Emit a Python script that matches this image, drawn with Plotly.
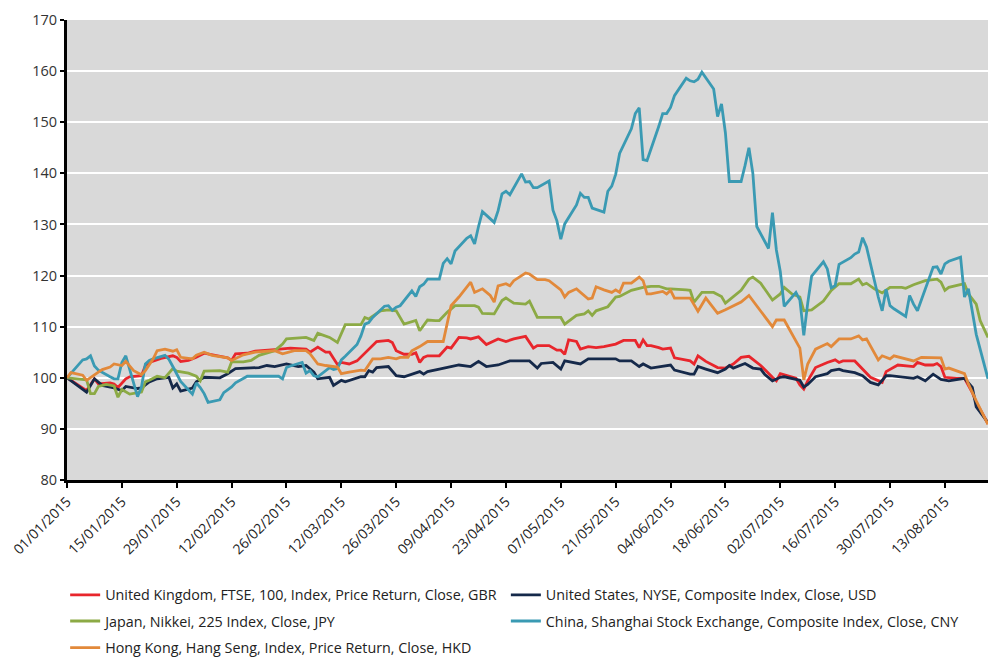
import pandas as pd
import plotly.graph_objects as go

START = pd.Timestamp("2015-01-01")
END = pd.Timestamp("2015-08-24")

# day offsets from 1 Jan 2015 and index values (rebased to 100)
uk_days = [0, 5, 7, 8, 11, 12, 13, 15, 16, 19, 20, 21, 24, 27, 28, 29, 31, 33, 35, 38, 41, 42, 43, 46, 48, 53, 57,
           61, 62, 64, 66, 67, 69, 70, 72, 74, 75, 77, 79, 82, 83, 84, 86, 88, 89, 90, 91, 92, 95, 97, 98, 100, 102,
           103, 105, 107, 110, 112, 114, 117, 119, 120, 123, 125, 126, 127, 128, 130, 131, 133, 135, 137, 140, 142,
           145, 146, 147, 148, 149, 151, 152, 154, 155, 159, 160, 161, 163, 166, 168, 170, 172, 174, 177, 180, 181,
           182, 184, 186, 187, 188, 189, 191, 194, 196, 197, 198, 201, 202, 203, 205, 208, 209, 212, 216, 217, 219,
           221, 222, 223, 224, 227, 229, 231, 232, 235]
uk_vals = [100, 97.5, 99.8, 98.8, 99.0, 98.8, 98.1, 99.8, 100.2, 100.4, 102.4, 103.0, 103.8, 104.3, 104.0, 103.2,
           103.4, 104.0, 104.8, 104.3, 103.9, 103.4, 104.7, 104.8, 105.2, 105.5, 105.8, 105.6, 105.0, 106.0, 105.0,
           105.0, 102.6, 103.0, 102.7, 103.3, 104.1, 105.6, 107.1, 107.3, 106.9, 105.3, 104.6, 104.6, 104.9, 103.0,
           104.0, 104.3, 104.3, 106.0, 105.8, 107.9, 107.8, 107.6, 108.0, 106.5, 107.6, 107.1, 107.6, 108.1, 105.8,
           106.3, 106.3, 105.4, 105.4, 104.6, 107.4, 107.1, 105.6, 106.1, 105.9, 106.1, 106.6, 107.3, 107.3, 105.9,
           107.4, 106.3, 106.3, 105.9, 105.6, 105.8, 103.9, 103.3, 102.7, 104.3, 103.2, 102.0, 101.9, 102.7, 104.0,
           104.2, 102.4, 100.1, 99.4, 100.8, 100.4, 99.9, 98.6, 97.8, 99.4, 102.0, 103.0, 103.5, 103.0, 103.3, 103.3,
           102.5, 101.7, 100.1, 99.1, 101.2, 102.5, 102.2, 103.0, 102.5, 102.5, 102.8, 102.2, 100.1, 99.9, 99.9, 97.1,
           95.2, 91.0]

us_days = [0, 5, 7, 9, 12, 14, 15, 18, 19, 21, 23, 26, 27, 28, 29, 32, 33, 35, 39, 41, 43, 49, 51, 53, 56, 59, 61,
           63, 64, 67, 68, 70, 71, 75, 76, 77, 78, 79, 82, 84, 86, 88, 90, 91, 92, 95, 97, 100, 103, 105, 107, 110,
           113, 117, 118, 120, 121, 124, 126, 127, 131, 133, 137, 140, 141, 144, 146, 147, 149, 152, 154, 155, 159,
           160, 161, 163, 166, 168, 169, 170, 173, 175, 177, 178, 180, 182, 183, 186, 187, 188, 189, 191, 194, 195,
           197, 198, 201, 203, 205, 207, 209, 210, 214, 216, 217, 219, 221, 223, 225, 229, 231, 232, 235]
us_vals = [100, 97.2, 99.8, 98.5, 98.0, 97.5, 98.3, 97.9, 98.0, 99.2, 99.8, 100.1, 98.0, 98.8, 97.4, 98.0, 99.2,
           100.1, 100.0, 100.8, 101.8, 102.0, 102.4, 102.2, 102.7, 102.2, 102.4, 101.1, 99.8, 100.1, 98.5, 99.5, 99.2,
           100.2, 100.2, 101.4, 101.1, 102.0, 102.2, 100.4, 100.2, 100.7, 101.2, 100.7, 101.2, 101.7, 102.0, 102.5,
           102.2, 103.2, 102.2, 102.5, 103.3, 103.2, 103.3, 101.9, 102.8, 103.0, 101.7, 103.3, 102.7, 103.7, 103.7,
           103.7, 103.3, 103.3, 102.2, 102.7, 101.9, 102.2, 102.5, 101.5, 100.7, 100.7, 102.2, 101.7, 101.0, 101.7,
           102.4, 101.9, 102.8, 101.9, 101.7, 100.7, 99.4, 100.1, 100.2, 99.7, 99.5, 98.2, 98.7, 100.2, 100.8, 101.4,
           101.7, 101.4, 101.0, 100.4, 99.1, 98.6, 100.4, 100.4, 100.1, 99.9, 100.2, 99.4, 100.7, 99.7, 99.4, 99.9,
           98.1, 94.3, 91.2]

jp_days = [0, 5, 6, 7, 8, 10, 12, 13, 14, 16, 19, 20, 21, 23, 25, 27, 28, 31, 33, 34, 35, 36, 39, 41, 42, 45, 47,
           49, 53, 55, 56, 61, 63, 64, 67, 69, 71, 75, 76, 77, 79, 80, 82, 84, 86, 89, 90, 92, 94, 95, 97, 99, 104,
           105, 106, 109, 111, 112, 114, 117, 118, 120, 126, 127, 130, 132, 133, 134, 135, 138, 140, 141, 144, 147,
           149, 151, 153, 154, 158, 159, 160, 162, 165, 167, 168, 170, 172, 174, 175, 177, 180, 182, 183, 185, 187,
           188, 190, 193, 195, 197, 200, 202, 203, 204, 206, 208, 210, 213, 214, 216, 219, 222, 223, 224, 225, 229,
           230, 232, 233, 235]
jp_vals = [100, 99.6, 96.9, 96.9, 98.3, 98.7, 98.4, 96.2, 97.7, 96.8, 97.2, 99.2, 99.5, 100.3, 100.0, 101.8, 101.3,
           100.9, 100.3, 99.4, 101.3, 101.3, 101.4, 101.1, 103.1, 103.1, 103.4, 104.4, 105.3, 106.6, 107.6, 107.9,
           107.3, 108.7, 107.9, 106.9, 110.4, 110.4, 111.8, 111.5, 112.5, 113.1, 113.3, 113.1, 110.5, 111.2, 109.2,
           111.3, 111.2, 111.2, 112.8, 114.1, 114.1, 113.8, 112.6, 112.5, 115.1, 115.6, 114.6, 114.4, 115.0, 111.8,
           111.8, 110.5, 112.2, 112.5, 113.1, 112.2, 113.1, 113.9, 115.8, 115.9, 117.1, 117.7, 117.9, 117.9, 117.4,
           117.4, 117.2, 117.1, 114.8, 116.7, 116.7, 115.9, 114.6, 115.8, 117.1, 119.3, 119.7, 118.5, 115.2, 116.4,
           117.7, 116.4, 115.8, 113.1, 113.3, 115.0, 117.1, 118.4, 118.4, 119.3, 118.2, 118.5, 117.4, 116.6, 117.7,
           117.7, 117.5, 118.2, 119.0, 119.3, 118.7, 117.1, 117.7, 118.4, 116.4, 114.4, 111.2, 107.9]

cn_days = [0, 4, 5, 6, 7, 8, 11, 12, 13, 14, 15, 18, 19, 20, 21, 22, 25, 26, 27, 28, 29, 32, 33, 34, 35, 36, 39, 40,
           41, 42, 43, 46, 47, 54, 55, 56, 57, 60, 61, 62, 63, 64, 67, 68, 69, 70, 71, 74, 75, 76, 77, 78, 81, 82, 83,
           84, 85, 88, 89, 90, 91, 92, 95, 96, 97, 98, 99, 102, 103, 104, 105, 106, 109, 110, 111, 112, 113, 116, 117,
           118, 119, 120, 123, 124, 125, 126, 127, 130, 131, 132, 133, 134, 137, 138, 139, 140, 141, 144, 145, 146,
           147, 148, 151, 152, 153, 154, 155, 158, 159, 160, 161, 162, 165, 166, 167, 168, 169, 172, 173, 174, 175,
           176, 179, 180, 181, 182, 183, 186, 187, 188, 189, 190, 193, 194, 195, 196, 197, 200, 201, 202, 203, 204,
           207, 208, 209, 210, 211, 214, 215, 216, 217, 218, 221, 222, 223, 224, 225, 228, 229, 230, 231, 232, 235]
cn_vals = [100, 103.5, 103.7, 104.3, 102.3, 101.5, 100.2, 99.8, 99.8, 103.0, 104.3, 96.3, 98.2, 102.7, 103.4, 103.7,
           104.4, 103.6, 102.2, 100.8, 99.3, 96.8, 99.0, 98.1, 96.9, 95.2, 95.7, 97.1, 97.6, 98.2, 99.0, 100.3, 100.3,
           100.3, 99.8, 102.0, 102.3, 103.0, 100.9, 101.4, 100.4, 100.2, 102.0, 101.6, 101.8, 103.5, 104.2, 106.5,
           108.2, 110.5, 110.8, 111.8, 114.0, 114.1, 113.2, 113.8, 114.1, 117.0, 115.9, 117.8, 118.3, 119.3, 119.3,
           122.4, 123.3, 122.3, 124.8, 127.3, 127.8, 126.2, 129.6, 132.5, 130.4, 132.7, 136.0, 136.5, 135.8, 139.9,
           138.3, 138.4, 137.2, 137.2, 138.5, 132.8, 130.7, 127.1, 130.1, 133.8, 136.1, 135.3, 135.3, 133.2, 132.4,
           136.5, 137.5, 139.8, 143.9, 148.7, 151.7, 152.8, 142.7, 142.5, 149.2, 151.7, 151.7, 152.9, 155.2, 158.6,
           158.1, 157.9, 158.4, 159.8, 156.5, 151.1, 153.6, 147.9, 138.4, 138.4, 141.5, 145.0, 140.0, 129.6, 125.3,
           132.3, 125.0, 120.8, 114.0, 116.7, 115.2, 108.3, 114.6, 119.9, 122.7, 121.3, 117.6, 118.0, 122.2, 123.5,
           124.2, 124.6, 127.4, 125.6, 115.8, 113.1, 117.3, 114.1, 113.5, 112.0, 116.1, 114.4, 113.1, 115.3, 121.6,
           121.7, 120.3, 122.3, 122.8, 123.6, 115.8, 117.4, 113.3, 108.5, 99.8]

hk_days = [0, 1, 4, 5, 8, 9, 11, 12, 14, 15, 17, 19, 20, 22, 23, 25, 27, 28, 29, 32, 33, 35, 37, 41, 42, 45, 48, 53,
           55, 58, 61, 62, 64, 66, 69, 70, 72, 75, 76, 78, 80, 82, 84, 85, 87, 88, 90, 92, 96, 97, 98, 100, 103, 104,
           106, 108, 109, 110, 112, 113, 114, 117, 118, 120, 122, 123, 126, 127, 128, 130, 133, 134, 135, 137, 139,
           140, 141, 142, 144, 146, 147, 148, 149, 152, 153, 154, 155, 159, 161, 163, 166, 168, 172, 174, 177, 180,
           181, 183, 187, 188, 189, 191, 194, 195, 197, 200, 202, 203, 204, 207, 208, 210, 211, 214, 216, 218, 223,
           224, 225, 229, 230, 232, 235]
hk_vals = [100, 101.0, 100.5, 99.5, 101.1, 101.6, 102.1, 102.7, 102.4, 103.2, 101.4, 100.6, 101.4, 103.7, 105.3,
           105.6, 105.2, 105.5, 104.0, 103.7, 104.4, 105.0, 104.4, 103.9, 103.4, 104.5, 105.0, 105.3, 104.7, 105.3,
           105.3, 104.7, 102.7, 102.4, 102.1, 100.8, 101.1, 101.5, 101.4, 103.7, 103.7, 104.0, 103.7, 104.0, 104.0,
           105.3, 106.1, 107.1, 107.1, 110.5, 114.1, 115.8, 118.7, 116.7, 117.4, 116.1, 114.8, 118.0, 118.4, 118.0,
           119.0, 120.5, 120.3, 119.2, 119.2, 119.0, 117.2, 115.8, 116.7, 117.4, 115.4, 115.6, 117.8, 117.2, 116.7,
           117.2, 116.7, 118.5, 118.5, 119.7, 119.0, 116.4, 116.4, 116.9, 116.4, 117.1, 115.6, 115.6, 113.0, 115.6,
           112.6, 113.3, 114.8, 116.1, 113.0, 110.0, 111.3, 111.3, 105.8, 99.6, 102.7, 105.6, 106.7, 106.1, 107.6,
           107.6, 108.2, 107.4, 107.6, 103.5, 104.3, 103.7, 104.3, 103.7, 103.3, 104.0, 103.9, 101.7, 101.9, 100.8,
           98.8, 95.5, 90.9]

# (name, days, values, colour, legend id, legend column, legend row)
SERIES = [
    ("United Kingdom, FTSE, 100, Index, Price Return, Close, GBR", uk_days, uk_vals, "#E8262C", "legend", 0, 0),
    ("United States, NYSE, Composite Index, Close, USD", us_days, us_vals, "#15294A", "legend2", 1, 0),
    ("Japan, Nikkei, 225 Index, Close, JPY", jp_days, jp_vals, "#8CAA45", "legend3", 0, 1),
    ("China, Shanghai Stock Exchange, Composite Index, Close, CNY", cn_days, cn_vals, "#3A9AB3", "legend4", 1, 1),
    ("Hong Kong, Hang Seng, Index, Price Return, Close, HKD", hk_days, hk_vals, "#E2893A", "legend5", 0, 2),
]

FONT = "Open Sans"
LEGEND_X = [-0.002, 0.4765]
LEGEND_Y = [-0.250, -0.307, -0.365]

fig = go.Figure()
legends = {}
for name, days, vals, color, leg, col, row in SERIES:
    dates = START + pd.to_timedelta(days, unit="D")
    fig.add_trace(go.Scatter(
        x=dates, y=vals, mode="lines", name=name,
        line=dict(color=color, width=2.8),
        legend=leg,
    ))
    legends[leg] = dict(
        orientation="h", xanchor="left", yanchor="middle",
        x=LEGEND_X[col], y=LEGEND_Y[row], itemwidth=30,
        font=dict(family=FONT, size=14.3, color="#222222"),
        bgcolor="rgba(0,0,0,0)",
    )

fig.update_layout(
    width=988, height=657,
    margin=dict(l=67, r=0, t=20, b=177, autoexpand=False),
    paper_bgcolor="white",
    plot_bgcolor="#D9D9D9",
    font=dict(family=FONT, color="#333333"),
    showlegend=True,
    **legends,
    xaxis=dict(
        range=[START, END], automargin=False,
        tick0=START, dtick=14 * 86400000,
        tickformat="%d/%m/%Y", tickangle=-45,
        tickfont=dict(size=14, color="#222222"),
        showgrid=False, zeroline=False,
        showline=True, linecolor="black", linewidth=3,
        ticks="outside", ticklen=5, tickwidth=2, tickcolor="black",
    ),
    yaxis=dict(
        range=[80, 170], dtick=10, automargin=False,
        tickfont=dict(size=14.5, color="#333333"),
        showgrid=True, gridcolor="white", gridwidth=2,
        zeroline=False,
        showline=True, linecolor="black", linewidth=3,
        ticks="outside", ticklen=4, tickwidth=2, tickcolor="black",
    ),
)

# page body has a default margin; drop it so the figure sits at the window origin
fig.write_html(
    "out.html",
    config={"displayModeBar": False},
    post_script="document.body.style.margin='0';document.body.style.overflow='hidden';"
                "Plotly.Plots.resize(document.getElementById('{plot_id}'));",
)
